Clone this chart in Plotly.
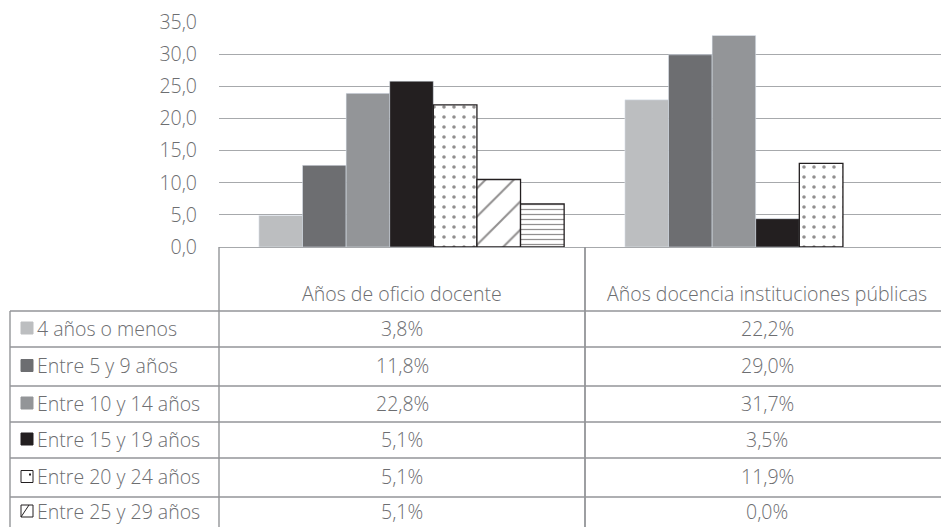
import plotly.graph_objects as go

# ---- data -------------------------------------------------------------
categories = ["Años de oficio docente", "Años docencia instituciones públicas"]

series_names = [
    "4 años o menos",
    "Entre 5 y 9 años",
    "Entre 10 y 14 años",
    "Entre 15 y 19 años",
    "Entre 20 y 24 años",
    "Entre 25 y 29 años",
    "30 años o más",
]

# bar heights per series: [oficio docente, instituciones públicas]
bars_4_menos = [4.9, 22.9]
bars_5_9 = [12.7, 29.9]
bars_10_14 = [23.9, 32.9]
bars_15_19 = [25.8, 4.4]
bars_20_24 = [22.1, 13.0]
bars_25_29 = [10.5, 0.0]
bars_30_mas = [6.7, 0.0]

# values printed in the data table under the chart
table_oficio = [3.8, 11.8, 22.8, 5.1, 5.1, 5.1]
table_publicas = [22.2, 29.0, 31.7, 3.5, 11.9, 0.0]

y_ticks = [0, 5, 10, 15, 20, 25, 30, 35]

# ---- styling -----------------------------------------------------------
W, H = 941, 527
PL, PR, PT, PB = 219, 941, 22, 247          # plot area in pixels
FONT = "Open Sans"
FS = 19.5
TXT = "#6d6e71"
GRID = "#a7a9ac"
LINE = "#939598"
INK = "#231f20"

styles = [
    dict(color="#bcbec0"),
    dict(color="#6d6e71"),
    dict(color="#939598"),
    dict(color=INK),
    dict(color="white", line=dict(color=INK, width=1.3),
         pattern=dict(shape=".", fgcolor=INK, bgcolor="white", size=10, solidity=0.1)),
    dict(color="white", line=dict(color=INK, width=1.3),
         pattern=dict(shape="/", fgcolor=INK, bgcolor="white", size=20, solidity=0.1)),
    dict(color="white", line=dict(color=INK, width=1.3),
         pattern=dict(shape="-", fgcolor=INK, bgcolor="white", size=5, solidity=0.25)),
]
all_bars = [bars_4_menos, bars_5_9, bars_10_14, bars_15_19, bars_20_24, bars_25_29, bars_30_mas]


def px(x):
    return (x - PL) / (PR - PL)


def py(y):
    return (PB - y) / (PB - PT)


fig = go.Figure()
for name, vals, st in zip(series_names, all_bars, styles):
    marker = dict(st)
    if "line" in marker:
        # no outline for empty bars
        marker["line"] = dict(color=INK, width=[1.3 if v > 0 else 0 for v in vals])
    fig.add_trace(go.Bar(name=name, x=categories, y=vals, marker=marker,
                         showlegend=False, hoverinfo="name+y"))

# ---- data table below the plot ---------------------------------------
shapes = []
annotations = []
row_edges = [311, 347, 386, 422, 458, 497, 527]
col_split = 585


def hline(y, x0, x1, w=1.4):
    shapes.append(dict(type="line", xref="paper", yref="paper",
                       x0=px(x0), x1=px(x1), y0=py(y), y1=py(y),
                       line=dict(color=LINE, width=w)))


def vline(x, y0, y1, w=1.4):
    shapes.append(dict(type="line", xref="paper", yref="paper",
                       x0=px(x), x1=px(x), y0=py(y0), y1=py(y1),
                       line=dict(color=LINE, width=w)))


for y in row_edges[:-1]:
    hline(y, 10, 945)
vline(10, 311, 540)
vline(PL, PB, 540)
vline(col_split, PB, 540, 1.8)


def text(x, y, s, anchor="center"):
    annotations.append(dict(xref="paper", yref="paper", x=px(x), y=py(y), text=s,
                            showarrow=False, xanchor=anchor, yanchor="middle",
                            font=dict(family=FONT, size=FS, color=TXT, weight=300)))


text(402, 293, categories[0])
text(767, 293, categories[1])


def fmt(v):
    return f"{v:.1f}".replace(".", ",") + "%"


for i in range(6):
    yc = (row_edges[i] + row_edges[i + 1]) / 2 - 1
    text(35, yc, series_names[i], "left")
    text(402, yc, fmt(table_oficio[i]))
    text(767, yc, fmt(table_publicas[i]))
    # legend key
    k0, k1 = 21, 33
    st = styles[i]
    shapes.append(dict(type="rect", xref="paper", yref="paper",
                       x0=px(k0), x1=px(k1), y0=py(yc + 6), y1=py(yc - 6),
                       fillcolor=st["color"],
                       line=dict(color=INK if "pattern" in st else st["color"], width=1)))
    if i == 4:
        shapes.append(dict(type="rect", xref="paper", yref="paper",
                           x0=px(29), x1=px(31), y0=py(yc - 1), y1=py(yc - 3),
                           fillcolor=INK, line=dict(width=0)))
    if i == 5:
        shapes.append(dict(type="line", xref="paper", yref="paper",
                           x0=px(k0), x1=px(k0 + 8), y0=py(yc + 6), y1=py(yc - 6),
                           line=dict(color=INK, width=1)))

# category axis shifted so the bar groups sit where the table columns are
x_start = -0.526
x_end = x_start + (PR - PL) / (col_split - PL)

fig.update_layout(
    width=W, height=H,
    margin=dict(l=PL, r=W - PR, t=PT, b=H - PB, pad=0),
    paper_bgcolor="white", plot_bgcolor="white",
    barmode="group", bargap=0.166, bargroupgap=0,
    separators=",.",
    font=dict(family=FONT, color=TXT),
    xaxis=dict(range=[x_start, x_end], showticklabels=False, ticks="",
               showgrid=False, zeroline=False, showline=False, fixedrange=True),
    yaxis=dict(range=[0, 35], tickvals=y_ticks, tickformat=".1f",
               showgrid=True, gridcolor=GRID, gridwidth=1.4,
               zeroline=True, zerolinecolor=GRID, zerolinewidth=1.4,
               showline=False, ticks="", ticklabelstandoff=21,
               tickfont=dict(family=FONT, size=FS, color=TXT, weight=300)),
    shapes=shapes,
    annotations=annotations,
)

fig.write_html("out.html")
